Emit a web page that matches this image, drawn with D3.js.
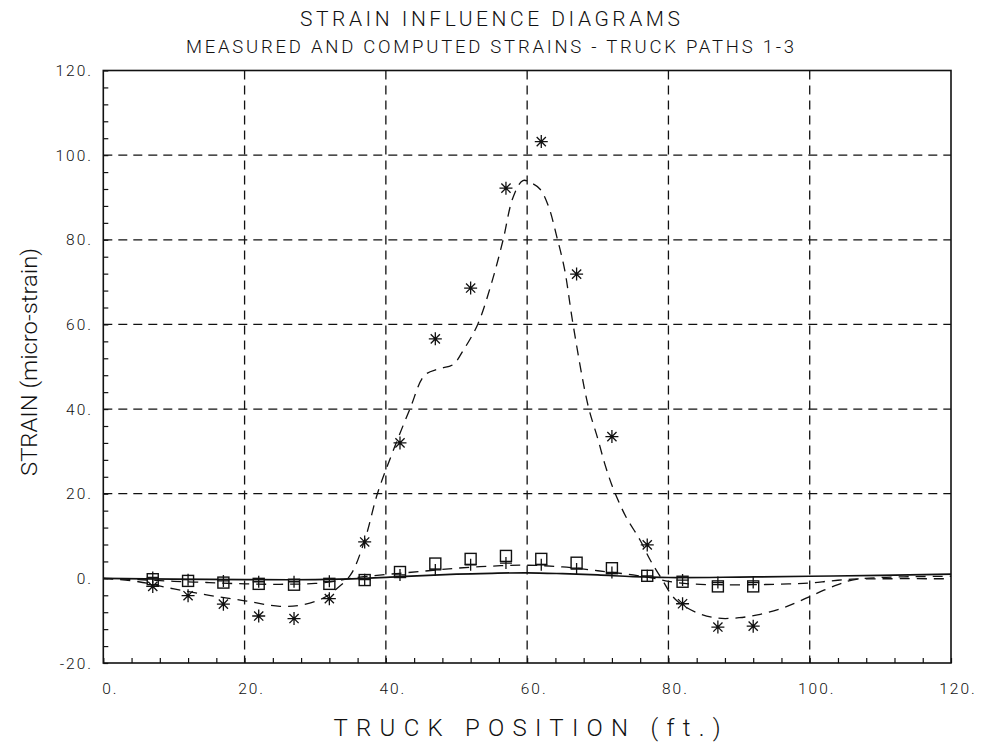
<!DOCTYPE html>
<html>
<head>
<meta charset="utf-8">
<script src="https://cdn.jsdelivr.net/npm/d3@7"></script>
<style>
  body { margin: 0; background: #fff; }
  svg { display: block; }
  text { font-family: Roboto, "DejaVu Sans", sans-serif; fill: #111; font-weight: 300; }
</style>
</head>
<body>
<div id="graph"></div>
<script>
// Measured truck positions (ft.)
const truckPos = [7, 12, 17, 22, 27, 32, 37, 42, 47, 52, 57, 62, 67, 72, 77, 82, 87, 92];
// Measured strains, one list per truck path
const path1 = [-1.9, -4.1, -6.1, -8.9, -9.5, -4.8, 8.6, 32, 56.6, 68.6, 92.2, 103.2, 71.9, 33.5, 7.9, -6.0, -11.5, -11.3];
const path2 = [-0.2, -0.6, -1.0, -1.3, -1.5, -1.3, -0.4, 1.5, 3.5, 4.6, 5.3, 4.6, 3.7, 2.4, 0.6, -0.8, -1.9, -1.9];
const path3 = [0.2, -0.3, -0.6, -0.8, -0.8, -0.7, -0.3, 0.8, 2.0, 3.2, 3.6, 3.2, 2.2, 1.4, 0.6, -0.4, -1.0, -1.0];

// Computed influence lines
const comp1X = [0, 5, 10, 15, 20, 25, 28, 31, 33, 35, 37, 38.8, 41, 43.4, 45.5, 47.5, 49.5, 51, 53, 55, 56.6, 58, 59.4, 60.5, 61.8, 63, 64.2, 65.3, 66.5, 68.6, 70, 71, 72, 73, 74, 76, 77.4, 79, 81, 84, 87, 90, 93, 96, 98, 100, 102, 104, 106, 110, 115, 120];
const comp1Y = [0, -0.8, -2.5, -4, -5.3, -6.6, -6.3, -4.8, -2.5, 0.8, 9, 20, 30, 40, 48, 49.5, 50.5, 54, 60, 70, 80, 90, 94, 93.5, 92, 88, 80.7, 73, 60, 41, 33, 27, 22, 18, 14.5, 9, 4.4, 0, -5, -8.1, -9.4, -9.3, -8.5, -7.1, -5.8, -4.3, -2.8, -1.5, -0.4, 0.2, 0.4, 0.5];
const comp2X = [0, 5, 10, 15, 20, 25, 30, 33, 35, 38, 42, 46, 50, 55, 60, 65, 70, 75, 78, 80, 83, 87, 92, 97, 100, 103, 106, 110, 120];
const comp2Y = [0, -0.3, -0.7, -1.0, -1.3, -1.4, -1.2, -0.6, 0, 0.6, 1.2, 1.8, 2.4, 2.9, 3.1, 2.7, 1.8, 0.8, 0, -0.7, -1.3, -1.5, -1.5, -1.3, -1.1, -0.6, -0.2, -0.1, -0.1];
const comp3X = [0, 10, 20, 30, 37, 42, 50, 55, 60, 65, 70, 75, 80, 90, 100, 110, 120];
const comp3Y = [0, -0.2, -0.3, -0.3, 0, 0.4, 1.0, 1.2, 1.3, 1.1, 0.8, 0.4, 0.2, 0.3, 0.5, 0.7, 1.0];

// Tick labels
const xTicks = [0, 20, 40, 60, 80, 100, 120];
const xTickLabels = ["0.", "20.", "40.", "60.", "80.", "100.", "120."];
const yTicks = [-20, 0, 20, 40, 60, 80, 100, 120];
const yTickLabels = ["-20.", "0.", "20.", "40.", "60.", "80.", "100.", "120."];

// chart constants
const w = 981;
const h = 744;

const svg = d3.select("#graph").append("svg")
              .attr("width", w)
              .attr("height", h);

const xScale = d3.scaleLinear().domain([0, 120]).range([103.3, 951]);
const yScale = d3.scaleLinear().domain([-20, 120]).range([663, 70.5]);

// titles
svg.append("text")
   .text("STRAIN INFLUENCE DIAGRAMS")
   .attr("x", 490).attr("y", 26)
   .attr("text-anchor", "middle")
   .attr("textLength", 380).attr("lengthAdjust", "spacing")
   .style("font-size", "21px");
svg.append("text")
   .text("MEASURED AND COMPUTED STRAINS - TRUCK PATHS 1-3")
   .attr("x", 490).attr("y", 53)
   .attr("text-anchor", "middle")
   .attr("textLength", 608).attr("lengthAdjust", "spacing")
   .style("font-size", "18.5px");

// gridlines (dashed)
const grid = svg.append("g")
   .attr("stroke", "#111")
   .attr("stroke-width", 1.3)
   .attr("stroke-dasharray", "9,6");
grid.selectAll("line.gx")
   .data(xTicks.slice(1, -1))
   .enter().append("line")
   .attr("class", "gx")
   .attr("x1", d => xScale(d)).attr("x2", d => xScale(d))
   .attr("y1", yScale(120)).attr("y2", yScale(-20));
grid.selectAll("line.gy")
   .data(yTicks.filter(d => d > 0 && d < 120))
   .enter().append("line")
   .attr("class", "gy")
   .attr("x1", xScale(0)).attr("x2", xScale(120))
   .attr("y1", d => yScale(d)).attr("y2", d => yScale(d));

// minor ticks, pointing inward
const xMinor = d3.axisBottom(xScale).tickValues(d3.range(0, 121, 4)).tickSize(-5).tickFormat("");
const yMinor = d3.axisLeft(yScale).tickValues(d3.range(-20, 121, 4)).tickSize(-5).tickFormat("");
svg.append("g")
   .attr("transform", "translate(0," + yScale(-20) + ")")
   .call(xMinor)
   .call(g => g.select(".domain").remove())
   .selectAll("line").attr("stroke", "#111").attr("stroke-width", 1.2);
svg.append("g")
   .attr("transform", "translate(" + xScale(0) + ",0)")
   .call(yMinor)
   .call(g => g.select(".domain").remove())
   .selectAll("line").attr("stroke", "#111").attr("stroke-width", 1.2);

// tick labels
svg.append("g").selectAll("text")
   .data(xTicks)
   .enter().append("text")
   .text((d, i) => xTickLabels[i])
   .attr("x", d => xScale(d) + 7)
   .attr("y", 694)
   .attr("text-anchor", "middle")
   .style("font-size", "15.5px")
   .style("letter-spacing", "2px");
svg.append("g").selectAll("text")
   .data(yTicks)
   .enter().append("text")
   .text((d, i) => yTickLabels[i])
   .attr("x", 93)
   .attr("y", d => yScale(d) + 5.5)
   .attr("text-anchor", "end")
   .style("font-size", "15.5px")
   .style("letter-spacing", "2px");

// axis titles
svg.append("text")
   .text("TRUCK POSITION (ft.)")
   .attr("x", 527).attr("y", 736)
   .attr("text-anchor", "middle")
   .attr("textLength", 387).attr("lengthAdjust", "spacing")
   .style("font-size", "24px");
svg.append("text")
   .text("STRAIN (micro-strain)")
   .attr("transform", "translate(37,362) rotate(-90)")
   .attr("text-anchor", "middle")
   .attr("textLength", 228).attr("lengthAdjust", "spacingAndGlyphs")
   .style("font-size", "22px");

// computed lines
const line = d3.line()
   .x(d => xScale(d[0]))
   .y(d => yScale(d[1]))
   .curve(d3.curveCatmullRom.alpha(0.5));

svg.append("path")
   .datum(comp3X.map((x, i) => [x, comp3Y[i]]))
   .attr("d", line)
   .attr("fill", "none").attr("stroke", "#111").attr("stroke-width", 1.7);
svg.append("path")
   .datum(comp2X.map((x, i) => [x, comp2Y[i]]))
   .attr("d", line)
   .attr("fill", "none").attr("stroke", "#111").attr("stroke-width", 1.3)
   .attr("stroke-dasharray", "10,7");
svg.append("path")
   .datum(comp1X.map((x, i) => [x, comp1Y[i]]))
   .attr("d", line)
   .attr("fill", "none").attr("stroke", "#111").attr("stroke-width", 1.3)
   .attr("stroke-dasharray", "10,7");

// markers
const sq = 11;
svg.append("g").selectAll("rect")
   .data(truckPos.map((x, i) => [x, path2[i]]))
   .enter().append("rect")
   .attr("x", d => xScale(d[0]) - sq / 2)
   .attr("y", d => yScale(d[1]) - sq / 2)
   .attr("width", sq).attr("height", sq)
   .attr("fill", "none").attr("stroke", "#111").attr("stroke-width", 1.4);

svg.append("g").selectAll("path")
   .data(truckPos.map((x, i) => [x, path3[i]]))
   .enter().append("path")
   .attr("d", d => {
      const cx = xScale(d[0]), cy = yScale(d[1]);
      return "M" + (cx - 6) + "," + cy + "H" + (cx + 6) + "M" + cx + "," + (cy - 6) + "V" + (cy + 6);
   })
   .attr("fill", "none").attr("stroke", "#111").attr("stroke-width", 1.3);

svg.append("g").selectAll("path")
   .data(truckPos.map((x, i) => [x, path1[i]]))
   .enter().append("path")
   .attr("d", d => {
      const cx = xScale(d[0]), cy = yScale(d[1]), r = 6.5, q = 4.6;
      return "M" + (cx - r) + "," + cy + "H" + (cx + r) +
             "M" + cx + "," + (cy - r) + "V" + (cy + r) +
             "M" + (cx - q) + "," + (cy - q) + "L" + (cx + q) + "," + (cy + q) +
             "M" + (cx - q) + "," + (cy + q) + "L" + (cx + q) + "," + (cy - q);
   })
   .attr("fill", "none").attr("stroke", "#111").attr("stroke-width", 1.3);

// frame
svg.append("rect")
   .attr("x", xScale(0)).attr("y", yScale(120))
   .attr("width", xScale(120) - xScale(0))
   .attr("height", yScale(-20) - yScale(120))
   .attr("fill", "none").attr("stroke", "#111").attr("stroke-width", 1.6);
</script>
</body>
</html>
